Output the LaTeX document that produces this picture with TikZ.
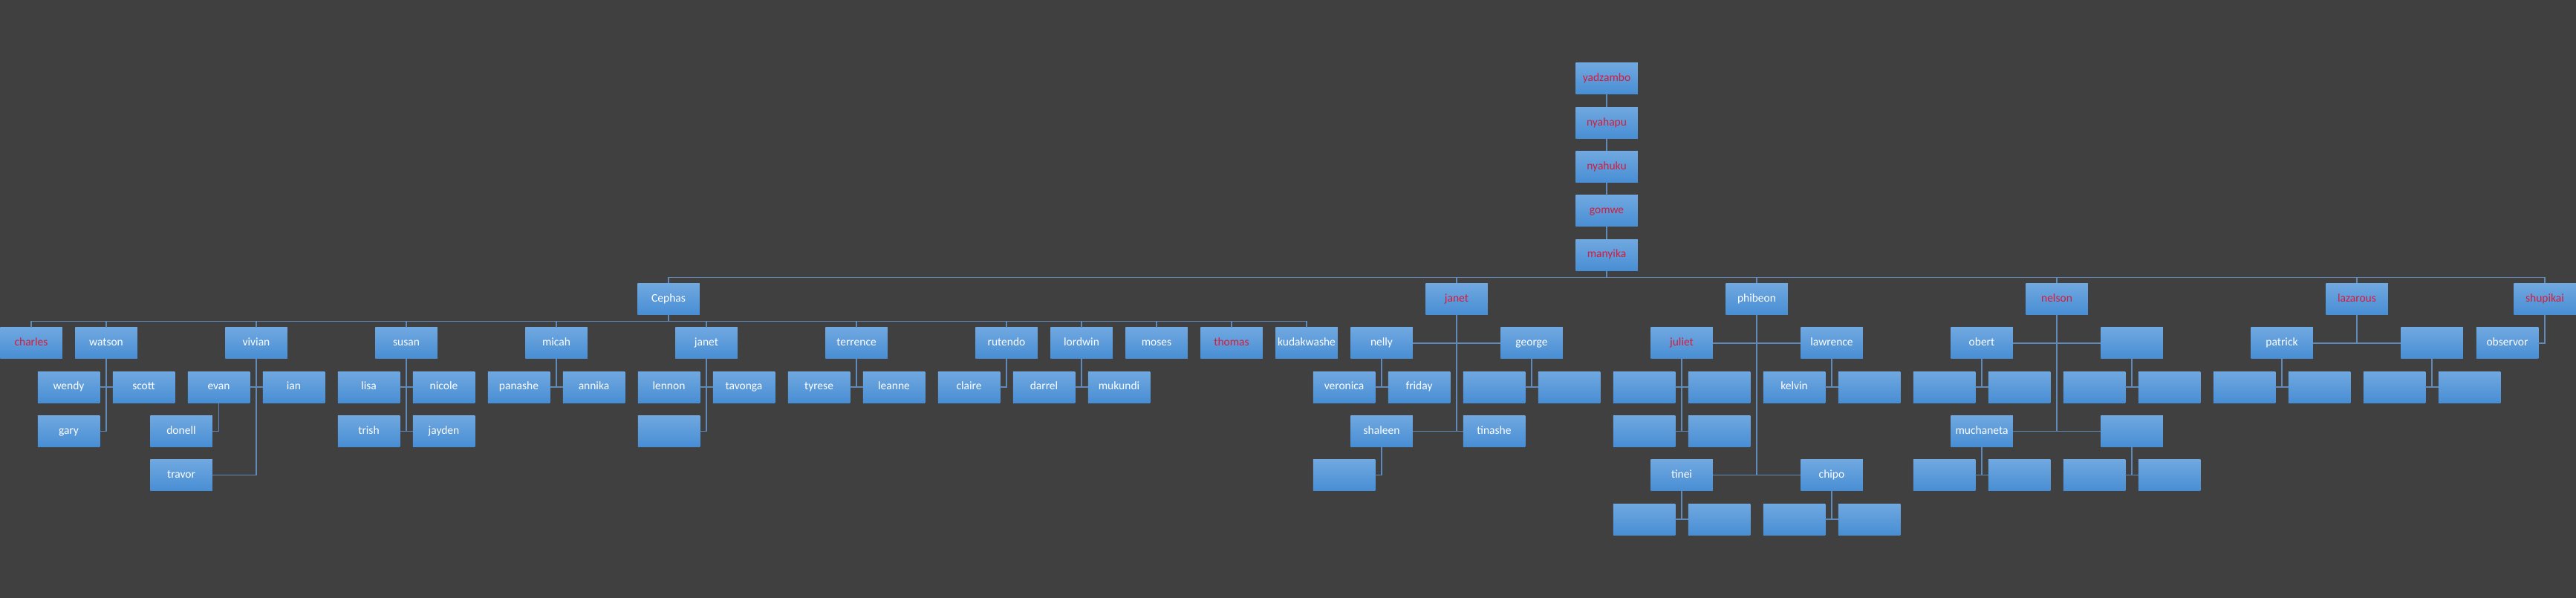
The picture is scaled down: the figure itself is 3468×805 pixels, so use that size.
\documentclass[tikz,border=0pt]{standalone}
\usepackage{fontspec}
\setmainfont{Carlito}
\usepackage{tikz}

\definecolor{bgdark}{RGB}{64,64,64}
\definecolor{boxtop}{RGB}{112,168,224}
\definecolor{boxbot}{RGB}{72,142,212}
\definecolor{linkblue}{RGB}{96,138,186}
\definecolor{namered}{RGB}{212,28,60}

\begin{document}
\begin{tikzpicture}[x=1pt, y=-1pt,
  famnode/.style={rectangle, top color=boxtop, bottom color=boxbot, minimum width=83.5pt, minimum height=42pt, inner sep=0pt, text height=11pt, text depth=3.5pt, text=white, font=\fontsize{15.5}{18}\selectfont},
  rednode/.style={famnode, text=namered},
  link/.style={draw=linkblue, line width=1.5pt}]
   \fill[bgdark] (0,0) rectangle (3468,805);
   % the line of elders
   \foreach \n [count=\i from 0] in {yadzambo,nyahapu,nyahuku,gomwe,manyika}
       \node[rednode] at (2163,{106+59.3*\i}) (\n) {\n};
   \foreach \a/\b in {yadzambo/nyahapu,nyahapu/nyahuku,nyahuku/gomwe,gomwe/manyika}
       \draw[link] (\a) -- (\b);
   % manyika's children
   \node[famnode] at (900,402.5) (cephas) {Cephas};
   \node[rednode] at (1961,402.5) (janetm) {janet};
   \node[famnode] at (2365,402.5) (phibeon) {phibeon};
   \node[rednode] at (2769,402.5) (nelson) {nelson};
   \node[rednode] at (3173,402.5) (lazarous) {lazarous};
   \node[rednode] at (3426,402.5) (shupikai) {shupikai};
   \foreach \c in {cephas,janetm,phibeon,nelson,lazarous,shupikai}
       \draw[link] (manyika.south) -- +(0,9) -| (\c.north);
   % cephas's children
   \node[rednode] at (42,461.8) (charles) {charles};
   \node[rednode] at (1658,461.8) (thomas) {thomas};
   \foreach \n/\x in {watson/143,vivian/345,susan/547,micah/749,janet/951,terrence/1153,rutendo/1355,lordwin/1456,moses/1557,kudakwashe/1759}
       \node[famnode] at (\x,461.8) (\n) {\n};
   \foreach \c in {charles,watson,vivian,susan,micah,janet,terrence,rutendo,lordwin,moses,thomas,kudakwashe}
       \draw[link] (cephas.south) -- +(0,9) -| (\c.north);
   % grandchildren with names
   \foreach \n/\x/\y in {wendy/92.5/521.1,scott/193.5/521.1,gary/92.5/580.4,
       evan/294.5/521.1,ian/395.5/521.1,donell/244/580.4,travor/244/639.7,
       lisa/496.5/521.1,nicole/597.5/521.1,trish/496.5/580.4,jayden/597.5/580.4,
       panashe/698.5/521.1,annika/799.5/521.1,lennon/900.5/521.1,tavonga/1001.5/521.1,
       tyrese/1102.5/521.1,leanne/1203.5/521.1,claire/1304.5/521.1,
       darrel/1405.5/521.1,mukundi/1506.5/521.1,
       nelly/1860/461.8,george/2062/461.8,shaleen/1860/580.4,tinashe/2011.5/580.4,
       veronica/1809.5/521.1,friday/1910.5/521.1,
       lawrence/2466/461.8,kelvin/2415.5/521.1,tinei/2264/639.7,chipo/2466/639.7,
       obert/2668/461.8,muchaneta/2668/580.4,patrick/3072/461.8,observor/3375.5/461.8}
       \node[famnode] at (\x,\y) (\n) {\n};
   \node[rednode] at (2264,461.8) (juliet) {juliet};
   % boxes left blank
   \foreach \n/\x/\y in {e1/900.5/580.4,e2/2011.5/521.1,e3/2112.5/521.1,e4/1809.5/639.7,
       e5/2213.5/521.1,e6/2314.5/521.1,e7/2213.5/580.4,e8/2314.5/580.4,e9/2516.5/521.1,
       e10/2213.5/699,e11/2314.5/699,e12/2415.5/699,e13/2516.5/699,
       e14/2870/461.8,e15/2870/580.4,e16/2617.5/521.1,e17/2718.5/521.1,
       e18/2819.5/521.1,e19/2920.5/521.1,e20/2617.5/639.7,e21/2718.5/639.7,
       e22/2819.5/639.7,e23/2920.5/639.7,e24/3274/461.8,
       e25/3021.5/521.1,e26/3122.5/521.1,e27/3223.5/521.1,e28/3324.5/521.1}
       \node[famnode] at (\x,\y) (\n) {};
   % hanging links
   \foreach \p/\c/\s in {watson/wendy/east,watson/scott/west,watson/gary/east,
       vivian/evan/east,vivian/ian/west,vivian/travor/east,evan/donell/east,
       susan/lisa/east,susan/nicole/west,susan/trish/east,susan/jayden/west,
       micah/panashe/east,micah/annika/west,janet/lennon/east,janet/tavonga/west,janet/e1/east,
       terrence/tyrese/east,terrence/leanne/west,rutendo/claire/east,
       lordwin/darrel/east,lordwin/mukundi/west,
       janetm/nelly/east,janetm/george/west,janetm/shaleen/east,janetm/tinashe/west,
       nelly/veronica/east,nelly/friday/west,george/e2/east,george/e3/west,shaleen/e4/east,
       phibeon/juliet/east,phibeon/lawrence/west,phibeon/tinei/east,phibeon/chipo/west,
       juliet/e5/east,juliet/e6/west,juliet/e7/east,juliet/e8/west,
       lawrence/kelvin/east,lawrence/e9/west,tinei/e10/east,tinei/e11/west,
       chipo/e12/east,chipo/e13/west,
       nelson/obert/east,nelson/e14/west,nelson/muchaneta/east,nelson/e15/west,
       obert/e16/east,obert/e17/west,e14/e18/east,e14/e19/west,
       muchaneta/e20/east,muchaneta/e21/west,e15/e22/east,e15/e23/west,
       lazarous/patrick/east,lazarous/e24/west,patrick/e25/east,patrick/e26/west,
       e24/e27/east,e24/e28/west,shupikai/observor/east}
       \draw[link] (\p.south) |- (\c.\s);
\end{tikzpicture}
\end{document}
